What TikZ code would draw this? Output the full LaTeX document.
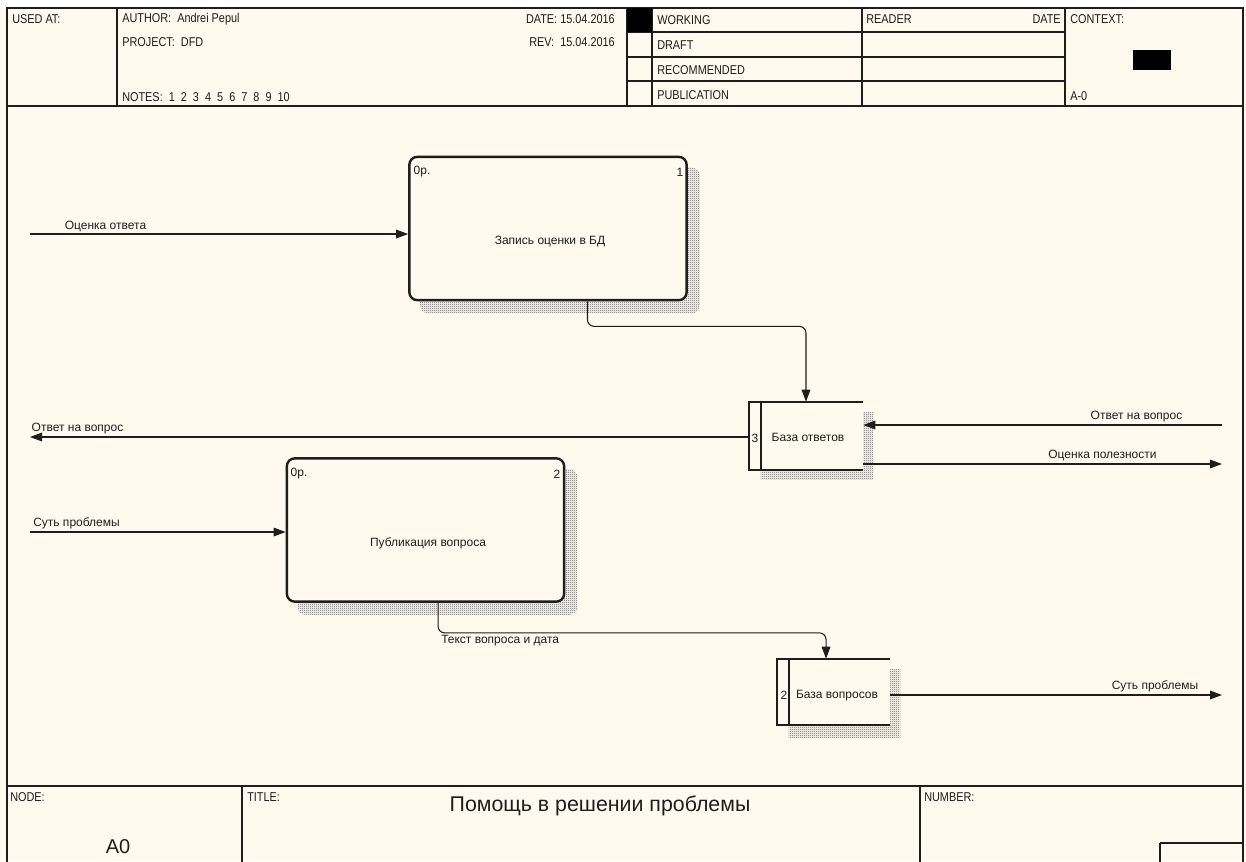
\documentclass[tikz,border=0pt]{standalone}
\usepackage{fontspec}
\setmainfont{Liberation Sans}
\newfontfamily\narrowfont[FakeStretch=0.85]{Liberation Sans}
\usetikzlibrary{arrows.meta,patterns,calc}
\definecolor{bgcream}{HTML}{FFF9EE}
\definecolor{ink}{HTML}{1E1E1E}
\pgfdeclarepatternformonly{checker}{\pgfqpoint{0pt}{0pt}}{\pgfqpoint{1.5pt}{1.5pt}}{\pgfqpoint{1.5pt}{1.5pt}}{%
  \pgfpathrectangle{\pgfqpoint{0pt}{0pt}}{\pgfqpoint{0.75pt}{0.75pt}}%
  \pgfpathrectangle{\pgfqpoint{0.75pt}{0.75pt}}{\pgfqpoint{0.75pt}{0.75pt}}%
  \pgfusepath{fill}}
\pgfdeclarelayer{bgl}
\pgfdeclarelayer{shl}
\pgfsetlayers{bgl,shl,main}
\tikzset{
  frame/.style={draw=ink, line width=1.1pt},
  hdr/.style={font=\narrowfont\fontsize{9.6}{11}\selectfont, text=ink, inner sep=0pt, anchor=west},
  hdrr/.style={hdr, anchor=east},
  lbl/.style={font=\fontsize{9}{10}\selectfont, text=ink, inner sep=0pt},
  procbox/.style={draw=ink, line width=1.8pt, rounded corners=6pt, fill=bgcream,
    minimum width=208pt, minimum height=107.5pt, inner sep=0pt},
  storebox/.style={fill=bgcream, inner sep=0pt},
  storeline/.style={draw=ink, line width=1.5pt},
  flow/.style={draw=ink, line width=0.8pt, -{Triangle[length=9pt,width=6.5pt]}},
  shadowfill/.style={pattern=checker, pattern color=gray!75!black},
}
\begin{document}
\begin{tikzpicture}[x=0.75pt,y=-0.75pt]
\useasboundingbox (0,0) rectangle (1246,861);
\begin{pgfonlayer}{bgl}
  \fill[bgcream] (0,0) rectangle (1246,861);
  \fill[white] (0,0) rectangle (1246,7);
\end{pgfonlayer}

% ---------- frame ----------
\draw[frame] (7,870) -- (7,8) -- (1243,8) -- (1243,870);
\draw[frame] (7,106) -- (1243,106);
\draw[frame] (117,8) -- (117,106);
\draw[frame] (627,8) -- (627,106);
\draw[frame] (652,8) -- (652,106);
\draw[frame] (862,8) -- (862,106);
\draw[frame] (1065,8) -- (1065,106);
\draw[frame] (627,32) -- (1065,32);
\draw[frame] (627,57) -- (1065,57);
\draw[frame] (627,81) -- (1065,81);
\fill[black] (627,8) rectangle (652,32);
\fill[black] (1133,50) rectangle (1171,70);

\node[hdr] (usedat) at (12,19) {USED AT:};
\node[hdr] (author) at (122,19) {AUTHOR:\ \ Andrei Pepul};
\node[hdr] (project) at (122,42) {PROJECT:\ \ DFD};
\node[hdr] (notes) at (122,97) {NOTES:\ \ 1\ \ 2\ \ 3\ \ 4\ \ 5\ \ 6\ \ 7\ \ 8\ \ 9\ \ 10};
\node[hdrr] (date) at (615,19) {DATE: 15.04.2016};
\node[hdrr] (rev) at (615,42) {REV:\ \ 15.04.2016};
\node[hdr] (working) at (657,20) {WORKING};
\node[hdr] (draft) at (657,45) {DRAFT};
\node[hdr] (recom) at (657,70) {RECOMMENDED};
\node[hdr] (public) at (657,95) {PUBLICATION};
\node[hdr] (reader) at (866,19) {READER};
\node[hdrr] (rdate) at (1061,19) {DATE};
\node[hdr] (context) at (1070,19) {CONTEXT:};
\node[hdr] (actx) at (1070,96) {A-0};

% ---------- footer ----------
\draw[frame] (7,786) -- (1243,786);
\draw[frame] (242,786) -- (242,870);
\draw[frame] (920,786) -- (920,870);
\draw[frame] (1160,843) -- (1243,843);
\draw[frame] (1160,843) -- (1160,870);
\node[hdr] (nodelbl) at (10,797) {NODE:};
\node[hdr] (titlelbl) at (247,797) {TITLE:};
\node[hdr] (numlbl) at (924,797) {NUMBER:};
\node[lbl, font=\fontsize{15}{17}\selectfont] (a0) at (118,847) {A0};
\node[lbl, font=\fontsize{16}{18}\selectfont] (title) at (600,806) {Помощь в решении проблемы};

% ---------- process boxes ----------
\node[procbox] (p1) at (548,228.5) {};
\node[procbox] (p2) at (425.5,530) {};
\begin{pgfonlayer}{shl}
  \fill[shadowfill, rounded corners=6pt] ($(p1.south west)+(12,12)$) rectangle ($(p1.north east)+(12,12)$);
  \fill[shadowfill, rounded corners=6pt] ($(p2.south west)+(12,12)$) rectangle ($(p2.north east)+(12,12)$);
\end{pgfonlayer}
\node[lbl] (p1t) at (550,242) {Запись оценки в БД};
\node[lbl] (p1c) at (422,172) {0р.};
\node[lbl] (p1n) at (680,172) {1};
\node[lbl] (p2t) at (428,543) {Публикация вопроса};
\node[lbl] (p2c) at (299,474) {0р.};
\node[lbl] (p2n) at (557,474) {2};

% ---------- data stores ----------
\node[storebox, minimum width=85.5pt, minimum height=51pt] (s3) at (806,436) {};
\node[storebox, minimum width=84.75pt, minimum height=49.5pt] (s2) at (833.5,692) {};
\begin{pgfonlayer}{shl}
  \fill[shadowfill] ($(s3.south west)+(12,9)$) rectangle ($(s3.north east)+(10,11)$);
  \fill[shadowfill] ($(s2.south west)+(12,12)$) rectangle ($(s2.north east)+(10,11)$);
\end{pgfonlayer}
\draw[storeline] (s3.north east) -- (s3.north west) -- (s3.south west) -- (s3.south east);
\draw[storeline] ($(s3.north west)+(12,0)$) -- ($(s3.south west)+(12,0)$);
\draw[storeline] (s2.north east) -- (s2.north west) -- (s2.south west) -- (s2.south east);
\draw[storeline] ($(s2.north west)+(12,0)$) -- ($(s2.south west)+(12,0)$);
\node[lbl] (s3n) at (755,438) {3};
\node[lbl] (s3t) at (808,437) {База ответов};
\node[lbl] (s2n) at (784,695) {2};
\node[lbl] (s2t) at (837,696) {База вопросов};

% ---------- connectors ----------
\coordinate (ia) at (30,234);
\coordinate (ol) at (30,437);
\coordinate (ib) at (30,532);
\coordinate (ir) at (1222,425);
\coordinate (orr) at (1222,464);
\coordinate (ob) at (1222,695);

\draw[flow] (ia) -- (ia -| p1.west);
\draw[flow] (ol -| s3.west) -- (ol);
\draw[flow] (ib) -- (ib -| p2.west);
\draw[flow] (ir) -- (ir -| s3.east);
\draw[flow] (orr -| s3.east) -- (orr);
\draw[flow] (ob -| s2.east) -- (ob);
\draw[flow, rounded corners=5pt] ([xshift=29.6pt]p1.south) -- ++(0,25) -| (s3.north);
\draw[flow, rounded corners=5pt] ([xshift=9.4pt]p2.south) -- ++(0,30) -| ([xshift=-5.6pt]s2.north);

\node[lbl] (l1) at (105.5,226) {Оценка ответа};
\node[lbl] (l2) at (77.5,429) {Ответ на вопрос};
\node[lbl] (l3) at (76.5,523) {Суть проблемы};
\node[lbl] (l4) at (1136.5,417) {Ответ на вопрос};
\node[lbl] (l5) at (1102.5,455) {Оценка полезности};
\node[lbl] (l6) at (1155,686) {Суть проблемы};
\node[lbl, anchor=west] (l7) at (441,641) {Текст вопроса и дата};
\end{tikzpicture}
\end{document}
